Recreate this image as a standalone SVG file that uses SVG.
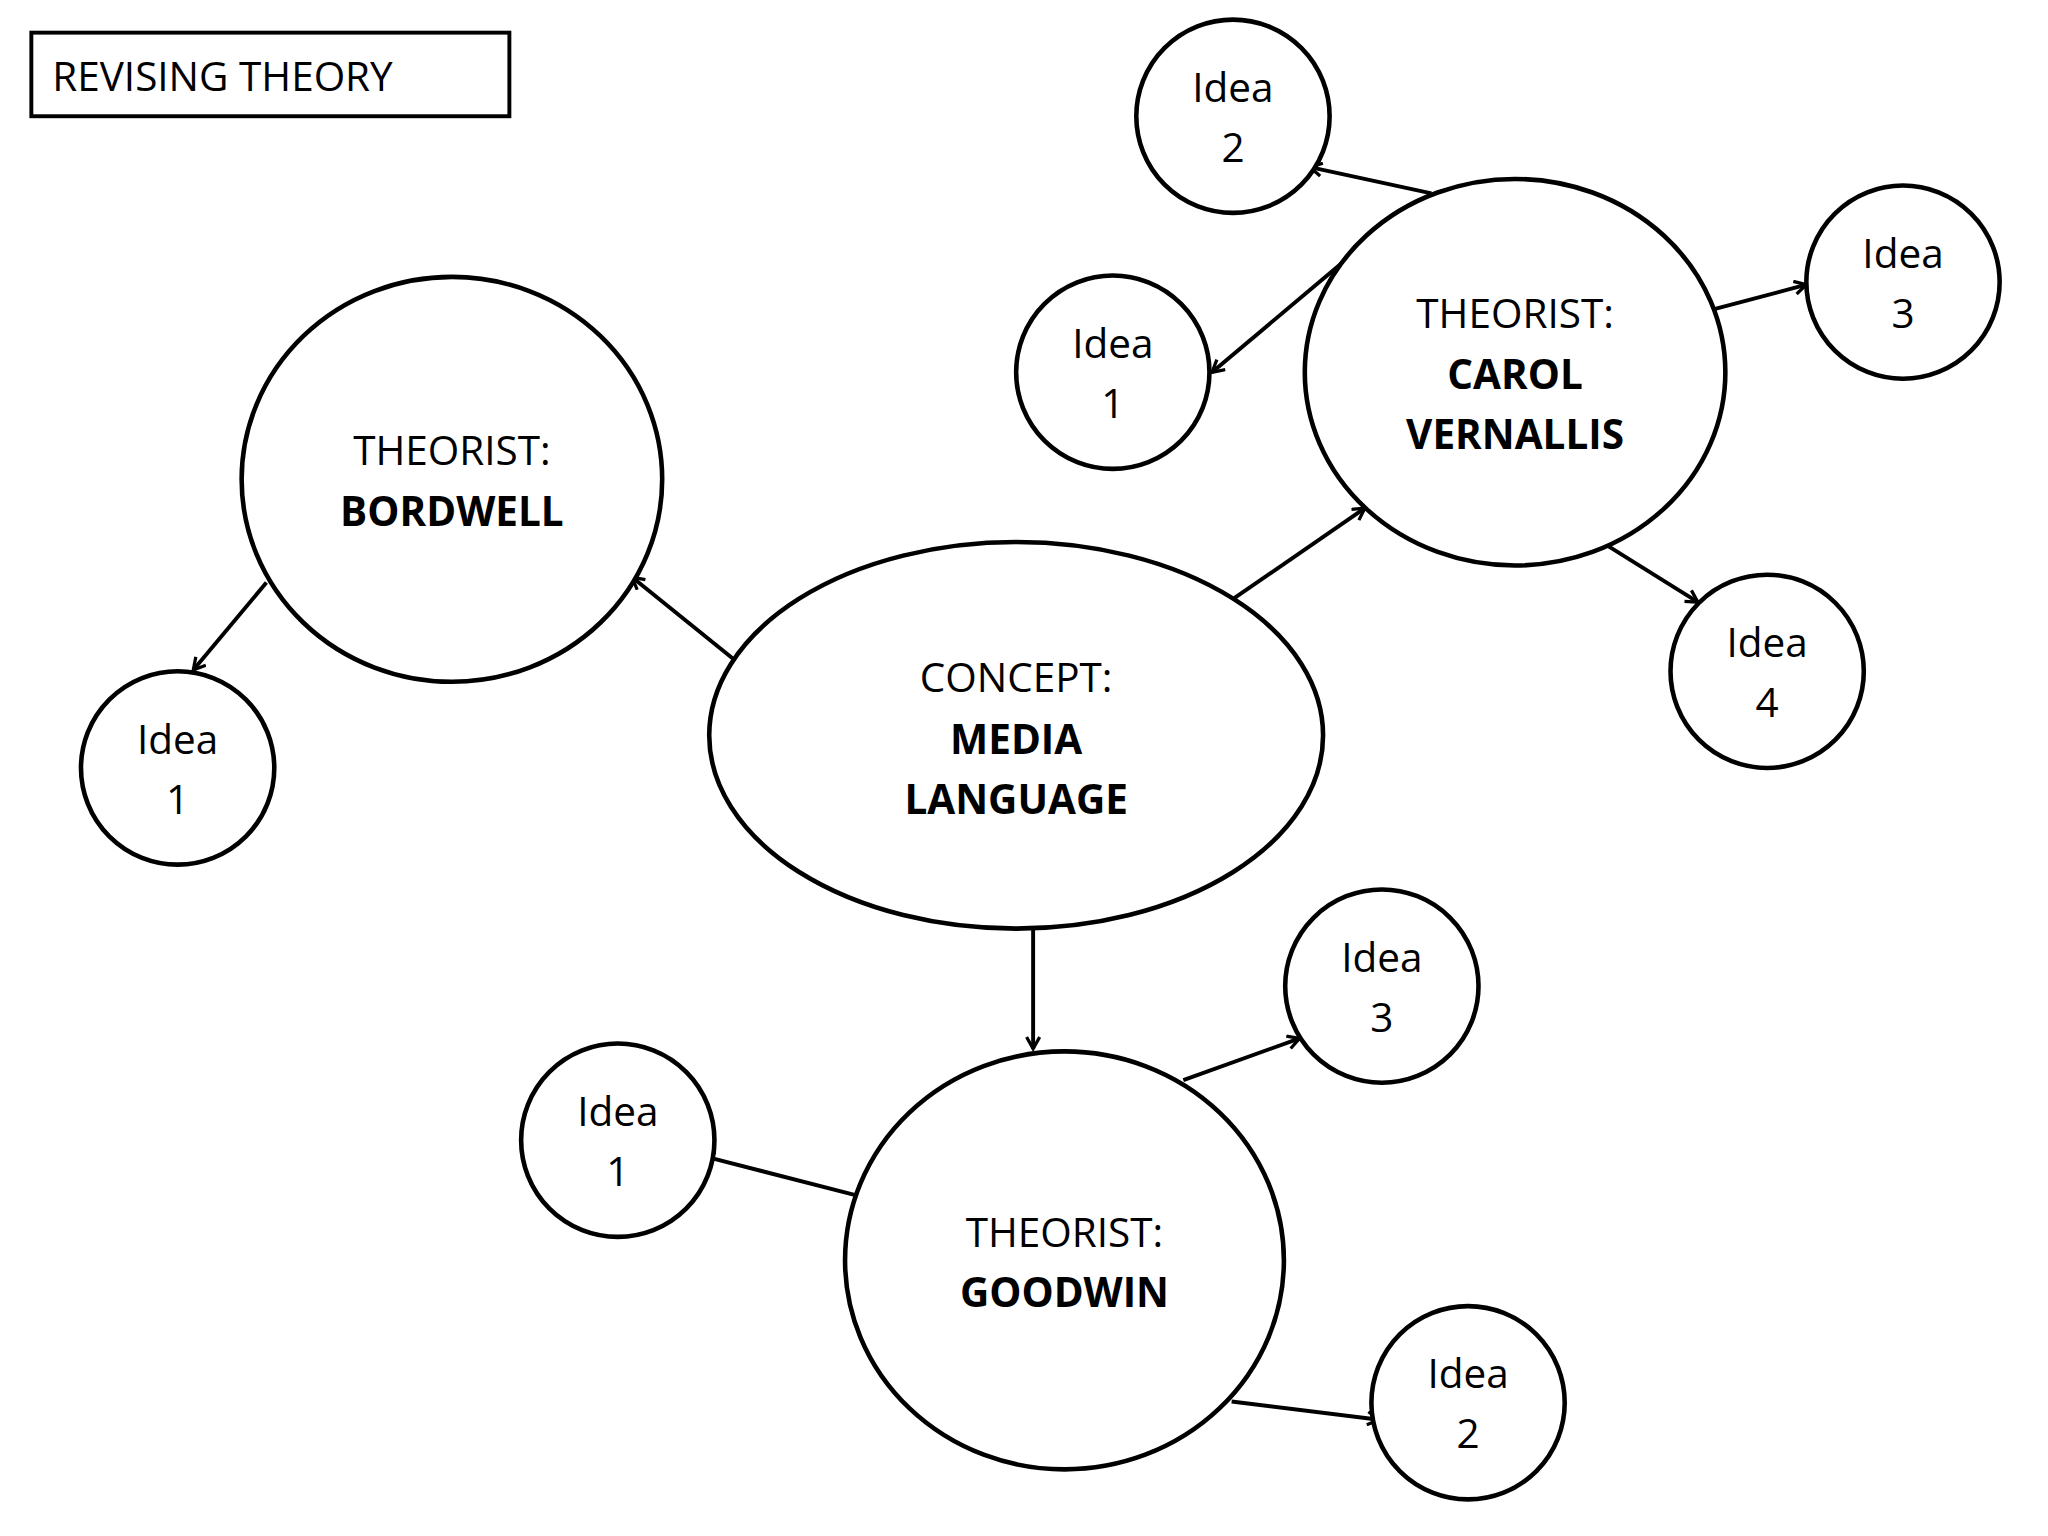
<svg xmlns="http://www.w3.org/2000/svg" width="2048" height="1536" viewBox="0 0 2048 1536">
<style>
.n{fill:#fff;stroke:#000;stroke-width:3.5}
text{font-family:"Open Sans","Noto Sans",sans-serif;font-size:31px;fill:#000;text-anchor:middle}
.b{font-weight:bold}
.c line{stroke:#000;stroke-width:3;marker-end:url(#a)}
</style>
<defs><marker id="a" markerWidth="12" markerHeight="12" refX="10" refY="6" orient="auto" markerUnits="userSpaceOnUse"><path d="M1,1 L10,6 L1,11" fill="none" stroke="#000" stroke-width="2.5"/></marker></defs>
<rect width="2048" height="1536" fill="#fff"/>
<g transform="scale(1.3061)">
<g id="title"><rect x="24" y="25" width="366" height="64" fill="#fff" stroke="#000" stroke-width="3"/><text x="40" y="70" style="text-anchor:start">REVISING THEORY</text></g>
<g class="c">
<line x1="562" y1="505" x2="484" y2="442"/>
<line x1="204" y1="446" x2="148" y2="513"/>
<line x1="945" y1="458" x2="1045" y2="389"/>
<line x1="791" y1="712" x2="791" y2="803"/>
<line x1="1096" y1="148" x2="1003" y2="128"/>
<line x1="1035" y1="195" x2="928" y2="285"/>
<line x1="1311" y1="237" x2="1383" y2="218"/>
<line x1="1231" y1="418" x2="1300" y2="461"/>
<line x1="655" y1="915" x2="538" y2="885"/>
<line x1="906" y1="827" x2="995" y2="795"/>
<line x1="943" y1="1073" x2="1056" y2="1087"/>
</g>
<g id="bordwell"><ellipse class="n" cx="346" cy="367" rx="161" ry="155"/><text x="346" y="356">THEORIST:</text><text class="b" x="346" y="403">BORDWELL</text></g>
<g id="media"><ellipse class="n" cx="778" cy="563" rx="235" ry="148"/><text x="778" y="530">CONCEPT:</text><text class="b" x="778" y="577">MEDIA</text><text class="b" x="778" y="623">LANGUAGE</text></g>
<g id="carol"><ellipse class="n" cx="1160" cy="285" rx="161" ry="148"/><text x="1160" y="251">THEORIST:</text><text class="b" x="1160" y="298">CAROL</text><text class="b" x="1160" y="344">VERNALLIS</text></g>
<g id="goodwin"><ellipse class="n" cx="815" cy="965" rx="168" ry="160"/><text x="815" y="955">THEORIST:</text><text class="b" x="815" y="1001">GOODWIN</text></g>
<g id="b1"><circle class="n" cx="136" cy="588" r="74"/><text x="136" y="577">Idea</text><text x="136" y="623">1</text></g>
<g id="c2"><circle class="n" cx="944" cy="89" r="74"/><text x="944" y="78">Idea</text><text x="944" y="124">2</text></g>
<g id="c1"><circle class="n" cx="852" cy="285" r="74"/><text x="852" y="274">Idea</text><text x="852" y="320">1</text></g>
<g id="c3"><circle class="n" cx="1457" cy="216" r="74"/><text x="1457" y="205">Idea</text><text x="1457" y="251">3</text></g>
<g id="c4"><circle class="n" cx="1353" cy="514" r="74"/><text x="1353" y="503">Idea</text><text x="1353" y="549">4</text></g>
<g id="g1"><circle class="n" cx="473" cy="873" r="74"/><text x="473" y="862">Idea</text><text x="473" y="908">1</text></g>
<g id="g3"><circle class="n" cx="1058" cy="755" r="74"/><text x="1058" y="744">Idea</text><text x="1058" y="790">3</text></g>
<g id="g2"><circle class="n" cx="1124" cy="1074" r="74"/><text x="1124" y="1063">Idea</text><text x="1124" y="1109">2</text></g>
</g>
</svg>
